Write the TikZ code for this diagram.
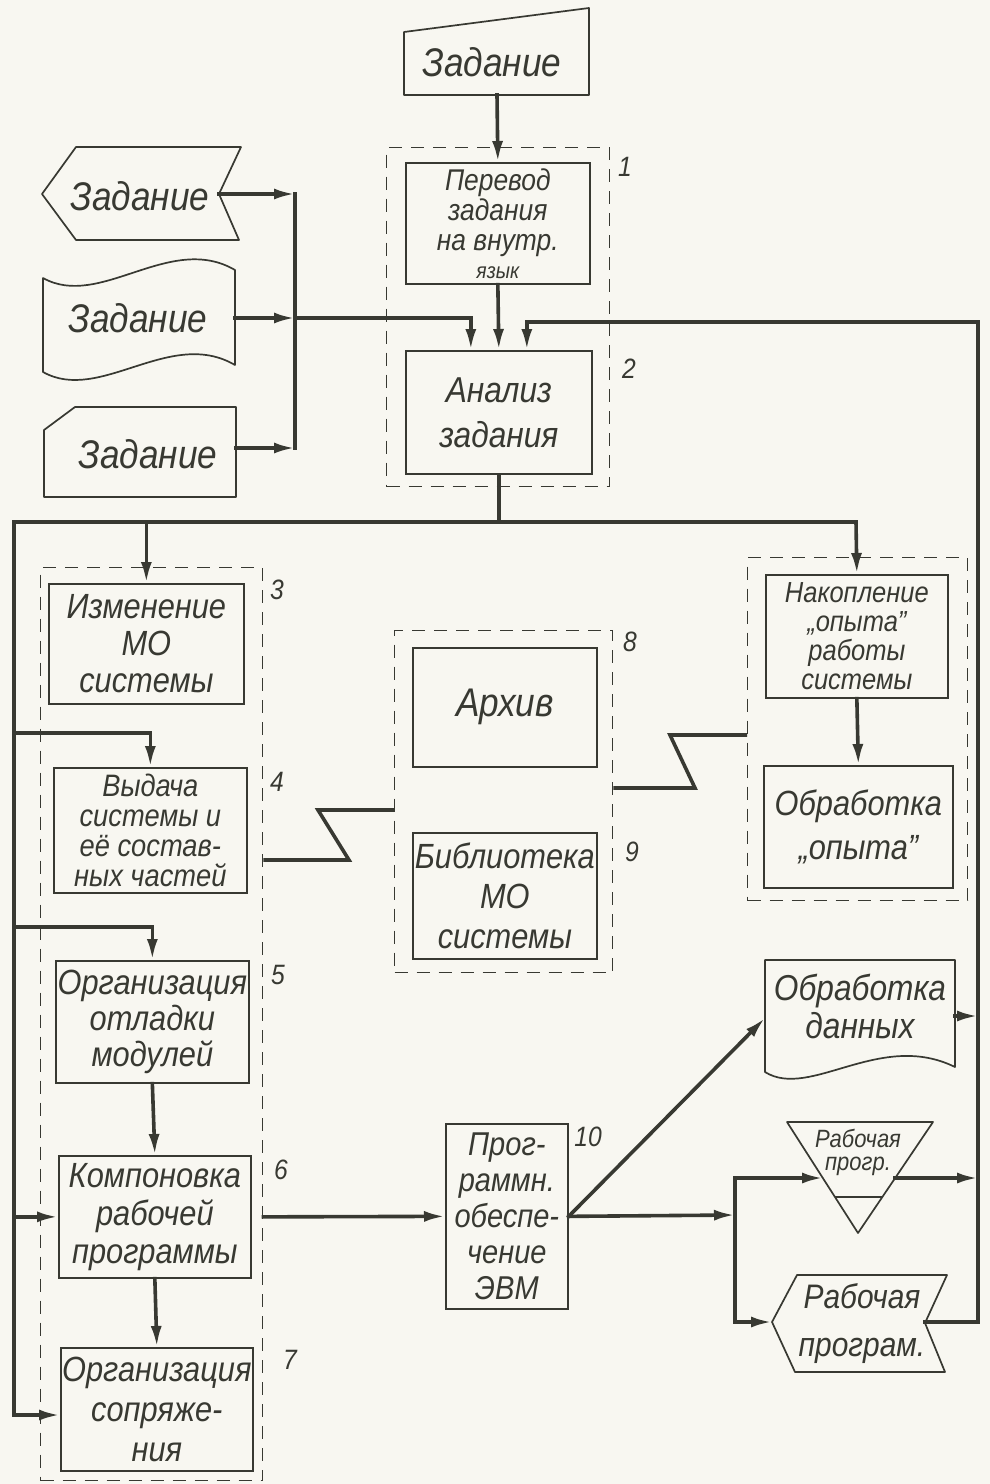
\documentclass[tikz,border=0pt]{standalone}
\usepackage{fontspec}
\newfontfamily\hand{Liberation Sans}[FakeStretch=0.88]
\usetikzlibrary{arrows.meta,calc}
\definecolor{ink}{RGB}{56,57,50}
\definecolor{paper}{RGB}{248,247,241}
\newcommand\fsz[2]{\fontsize{#1}{#2}\selectfont}

\begin{document}
\begin{tikzpicture}[x=1pt,y=-1pt,
  box/.style={draw=ink, line width=1.7pt, inner sep=0pt, anchor=north west,
    align=center, text=ink, font=\hand\itshape\fsz{35}{37}},
  grp/.style={draw=ink, line width=1.4pt, dash pattern=on 13pt off 9pt,
    inner sep=0pt, anchor=north west},
  outline/.style={draw=ink, line width=1.7pt, line join=round},
  txt/.style={text=ink, inner sep=0pt, align=center, font=\hand\itshape\fsz{40}{40}},
  num/.style={text=ink, inner sep=0pt, font=\hand\itshape\fsz{28}{28}},
  wire/.style={draw=ink, line width=3.6pt, line cap=rect, line join=miter},
  flow/.style={wire, -{Latex[length=21pt,width=11pt]}},
]
\useasboundingbox (0,0) rectangle (990,1484);
\fill[paper] (0,0) rectangle (990,1484);

% ---------- input media ----------
% manual input (top)
\draw[outline] (404,32) -- (589,8) -- (589,95) -- (404,95) -- cycle;
\node[txt] (zt) at (492,62) {Задание};
\coordinate (ztb) at (497,95);

% display-type input
\draw[outline] (42,194) -- (76,147) -- (241,147) -- (219,194) -- (239,240) -- (76,240) -- cycle;
\node[txt] (z1) at (140,196) {Задание};
\coordinate (z1o) at (219,194);

% punched tape input
\draw[outline] (43,278) .. controls (100,310) and (170,232) .. (235,270)
  -- (235,365) .. controls (170,327) and (100,404) .. (43,372) -- cycle;
\node[txt] (z2) at (138,318) {Задание};
\coordinate (z2o) at (235,318);

% punched card input
\draw[outline] (44,430) -- (75,407) -- (236,407) -- (236,497) -- (44,497) -- cycle;
\node[txt] (z3) at (148,454) {Задание};
\coordinate (z3o) at (236,448);

% ---------- groups (dashed) ----------
\node[grp, minimum width=223pt, minimum height=339pt] (d12) at (386,147) {};
\node[grp, minimum width=222pt, minimum height=913pt] (d37) at (40,567) {};
\node[grp, minimum width=218pt, minimum height=342pt] (d89) at (394,630) {};
\node[grp, minimum width=220pt, minimum height=343pt] (dop) at (747,557) {};

% ---------- blocks ----------
\node[box, minimum width=184pt, minimum height=121pt, font=\hand\itshape\fsz{30}{30}] (b1) at (405,162)
  {Перевод\\задания\\на внутр.\\[-2pt]{\fsz{22}{22}язык}};
\node[box, minimum width=186pt, minimum height=123pt, font=\hand\itshape\fsz{36}{45}] (b2) at (405,350)
  {Анализ\\задания};
\node[box, minimum width=195pt, minimum height=120pt] (b3) at (48,583)
  {Изменение\\МО\\системы};
\node[box, minimum width=193pt, minimum height=125pt, font=\hand\itshape\fsz{31}{30}] (b4) at (53,767)
  {Выдача\\системы и\\её состав-\\ных частей};
\node[box, minimum width=193pt, minimum height=122pt, font=\hand\itshape\fsz{35}{36}] (b5) at (55,960)
  {Организация\\отладки\\модулей};
\node[box, minimum width=192pt, minimum height=122pt, font=\hand\itshape\fsz{35}{38}] (b6) at (58,1155)
  {Компоновка\\рабочей\\программы};
\node[box, minimum width=192pt, minimum height=123pt, font=\hand\itshape\fsz{35}{40}] (b7) at (60,1347)
  {Организация\\сопряже-\\ния};
\node[box, minimum width=184pt, minimum height=119pt, font=\hand\itshape\fsz{40}{40}] (b8) at (412,647)
  {Архив};
\node[box, minimum width=184pt, minimum height=126pt, font=\hand\itshape\fsz{35}{40}] (b9) at (412,832)
  {Библиотека\\МО\\системы};
\node[box, minimum width=182pt, minimum height=123pt, font=\hand\itshape\fsz{29}{29}] (nak) at (765,574)
  {Накопление\\„опыта”\\работы\\системы};
\node[box, minimum width=189pt, minimum height=122pt, font=\hand\itshape\fsz{35}{44}] (obo) at (763,765)
  {Обработка\\„опыта”};
\node[box, minimum width=122pt, minimum height=185pt, font=\hand\itshape\fsz{33}{36}] (b10) at (445,1123)
  {Прог-\\раммн.\\обеспе-\\чение\\ЭВМ};

% ---------- output media ----------
% printed document
\draw[outline] (765,960) -- (955,960) -- (955,1067)
  .. controls (880,1030) and (810,1100) .. (765,1072) -- cycle;
\node[txt, font=\hand\itshape\fsz{36}{38}] (od) at (860,1006) {Обработка\\данных};
\coordinate (odl) at (765,1018);
\coordinate (odr) at (955,1016);

% off-line storage triangle
\draw[outline] (787,1122) -- (933,1122) -- (858,1233) -- cycle;
\draw[outline] (835,1197) -- (882,1197);
\node[txt, font=\hand\itshape\fsz{25}{23}] (tr) at (858,1152) {Рабочая\\прогр.};
\coordinate (trl) at (823,1178);
\coordinate (trr) at (895,1178);

% display-type output
\draw[outline] (772,1322) -- (797,1275) -- (947,1275) -- (925,1323) -- (945,1372) -- (795,1372) -- cycle;
\node[txt, font=\hand\itshape\fsz{34}{48}] (rp) at (862,1324) {Рабочая\\програм.};
\coordinate (rpl) at (772,1322);
\coordinate (rpr) at (925,1322);

% ---------- group numbers ----------
\node[num] (n1) at (625,167) {1};
\node[num] (n2) at (629,369) {2};
\node[num] (n3) at (277,590) {3};
\node[num] (n4) at (277,782) {4};
\node[num] (n5) at (278,975) {5};
\node[num] (n6) at (281,1170) {6};
\node[num] (n7) at (290,1360) {7};
\node[num] (n8) at (630,642) {8};
\node[num] (n9) at (632,852) {9};
\node[num] (n10) at (588,1137) {10};

% ---------- connectors ----------
% inputs to the collector line
\coordinate (j1) at (295,194);
\coordinate (j2) at (295,318);
\coordinate (j3) at (295,448);
\draw[wire] (j1) -- (j3);
\draw[flow] (z1o) -- (j1);
\draw[flow] (z2o) -- (j2);
\draw[flow] (z3o) -- (j3);
\coordinate (b2l) at ($(b2.north)+(-28,0)$);
\coordinate (b2r) at ($(b2.north)+(28,0)$);
\draw[flow] (j2) -| (b2l);

% top input and translation
\draw[flow] (ztb) -- (b1.north);
\draw[flow] (b1.south) -- (b2.north);

% feedback line on the right
\coordinate (rtop) at (978,322);
\coordinate (rbot) at (978,1322);
\draw[flow] (rbot) -- (rtop) -| (b2r);
\draw[flow] (odr) -- (odr -| rtop);
\draw[flow] (trr) -- (trr -| rtop);
\draw[wire] (rpr) -- (rbot);

% distribution line below the analysis block
\coordinate (hl) at (14,522);
\coordinate (hr) at (856,522);
\coordinate (lb) at (14,1415);
\draw[wire] (b2.south) -- (b2.south |- hl);
\draw[flow] (lb) -- (hl) -- (hr) -- (nak.north);
\draw[flow] (b3.north |- hl) -- (b3.north);
\coordinate (k4) at (14,733);
\coordinate (k5) at (14,927);
\draw[flow] (k4) -| (b4.north);
\draw[flow] (k5) -| (b5.north);
\draw[flow] (hl |- b6.west) -- (b6.west);
\draw[flow] (lb) -- (lb -| b7.west);

% vertical sequence inside groups
\draw[flow] (b5.south) -- (b6.north);
\draw[flow] (b6.south) -- (b7.north);
\draw[flow] (nak.south) -- (obo.north);

% communication links between groups
\coordinate (y860) at (0,860);
\coordinate (y810) at (0,810);
\coordinate (y788) at (0,788);
\coordinate (y735) at (0,735);
\draw[wire, line cap=butt] (d37.east |- y860) -- (349,860) -- (318,810) -- (d89.west |- y810);
\draw[wire, line cap=butt] (d89.east |- y788) -- (695,788) -- (670,735) -- (dop.west |- y735);

% assembled program to computer software and its outputs
\draw[flow] (d37.east |- b6.east) -- (b10.west);
\coordinate (vj) at (735,1215);
\coordinate (vt) at (735,1178);
\coordinate (vb) at (735,1322);
\draw[flow] (b10.east) -- (odl);
\draw[flow] (b10.east) -- (vj);
\draw[wire] (vt) -- (vb);
\draw[flow] (vt) -- (trl);
\draw[flow] (vb) -- (rpl);
\end{tikzpicture}
\end{document}
